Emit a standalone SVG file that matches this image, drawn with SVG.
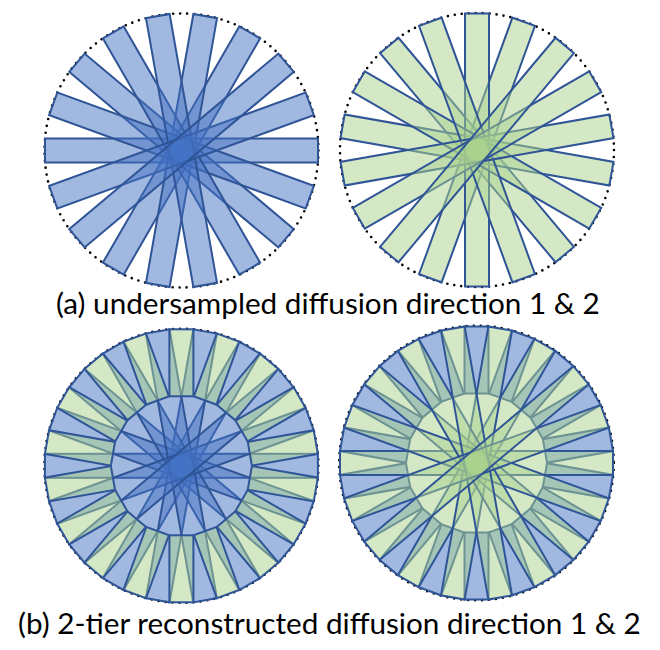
<svg xmlns="http://www.w3.org/2000/svg" width="660" height="650" viewBox="0 0 660 650">
<style>
.b{fill:#4472c4;fill-opacity:.5;stroke:#2f5597;stroke-width:2}
.g{fill:#a9d18e;fill-opacity:.5;stroke:#2f5597;stroke-width:2}
.dots{fill:none;stroke:#000;stroke-width:2.6;stroke-linecap:round;stroke-dasharray:0 7}
text{font-family:Lato,"Open Sans",sans-serif;font-size:29.7px;fill:#000}
</style>
<defs>
<rect id="bar" x="-136.5" y="-12" width="273" height="24"/>
<g id="ends"><rect x="69.5" y="-12" width="67" height="24"/><rect x="-136.5" y="-12" width="67" height="24"/></g>
<g id="evenbars">
<use href="#bar" transform="rotate(0)"/>
<use href="#bar" transform="rotate(-60)"/>
<use href="#bar" transform="rotate(-80)"/>
<use href="#bar" transform="rotate(-140)"/>
<use href="#bar" transform="rotate(-160)"/>
<use href="#bar" transform="rotate(-120)"/>
<use href="#bar" transform="rotate(-100)"/>
<use href="#bar" transform="rotate(-20)"/>
<use href="#bar" transform="rotate(-40)"/>
</g>
<g id="oddbars">
<use href="#bar" transform="rotate(-70)"/>
<use href="#bar" transform="rotate(-130)"/>
<use href="#bar" transform="rotate(-170)"/>
<use href="#bar" transform="rotate(-90)"/>
<use href="#bar" transform="rotate(-150)"/>
<use href="#bar" transform="rotate(-110)"/>
<use href="#bar" transform="rotate(-10)"/>
<use href="#bar" transform="rotate(-30)"/>
<use href="#bar" transform="rotate(-50)"/>
</g>
<g id="oddends">
<use href="#ends" transform="rotate(-10)"/><use href="#ends" transform="rotate(-30)"/><use href="#ends" transform="rotate(-50)"/>
<use href="#ends" transform="rotate(-70)"/><use href="#ends" transform="rotate(-90)"/><use href="#ends" transform="rotate(-110)"/>
<use href="#ends" transform="rotate(-130)"/><use href="#ends" transform="rotate(-150)"/><use href="#ends" transform="rotate(-170)"/>
</g>
</defs>
<rect width="660" height="650" fill="#fff"/>
<g id="panel-a1" transform="translate(181.5 150.5)">
<circle class="dots" r="137"/>
<use href="#evenbars" class="b"/>
</g>
<g id="panel-a2" transform="translate(477 150)">
<circle class="dots" r="137"/>
<use href="#oddbars" class="g"/>
</g>
<g id="panel-b1" transform="translate(181.4 465.8)">
<circle class="dots" r="137"/>
<use href="#evenbars" class="b"/>
<use href="#oddends" class="g"/>
</g>
<g id="panel-b2" transform="translate(476.5 463)">
<circle class="dots" r="137.3"/>
<use href="#oddends" class="b"/>
<use href="#evenbars" class="g"/>
</g>
<text id="caption-a" x="56" y="314">(a) undersampled diffusion direction 1 &amp; 2</text>
<text id="caption-b" x="18" y="634">(b) 2-tier reconstructed diffusion direction 1 &amp; 2</text>
</svg>
